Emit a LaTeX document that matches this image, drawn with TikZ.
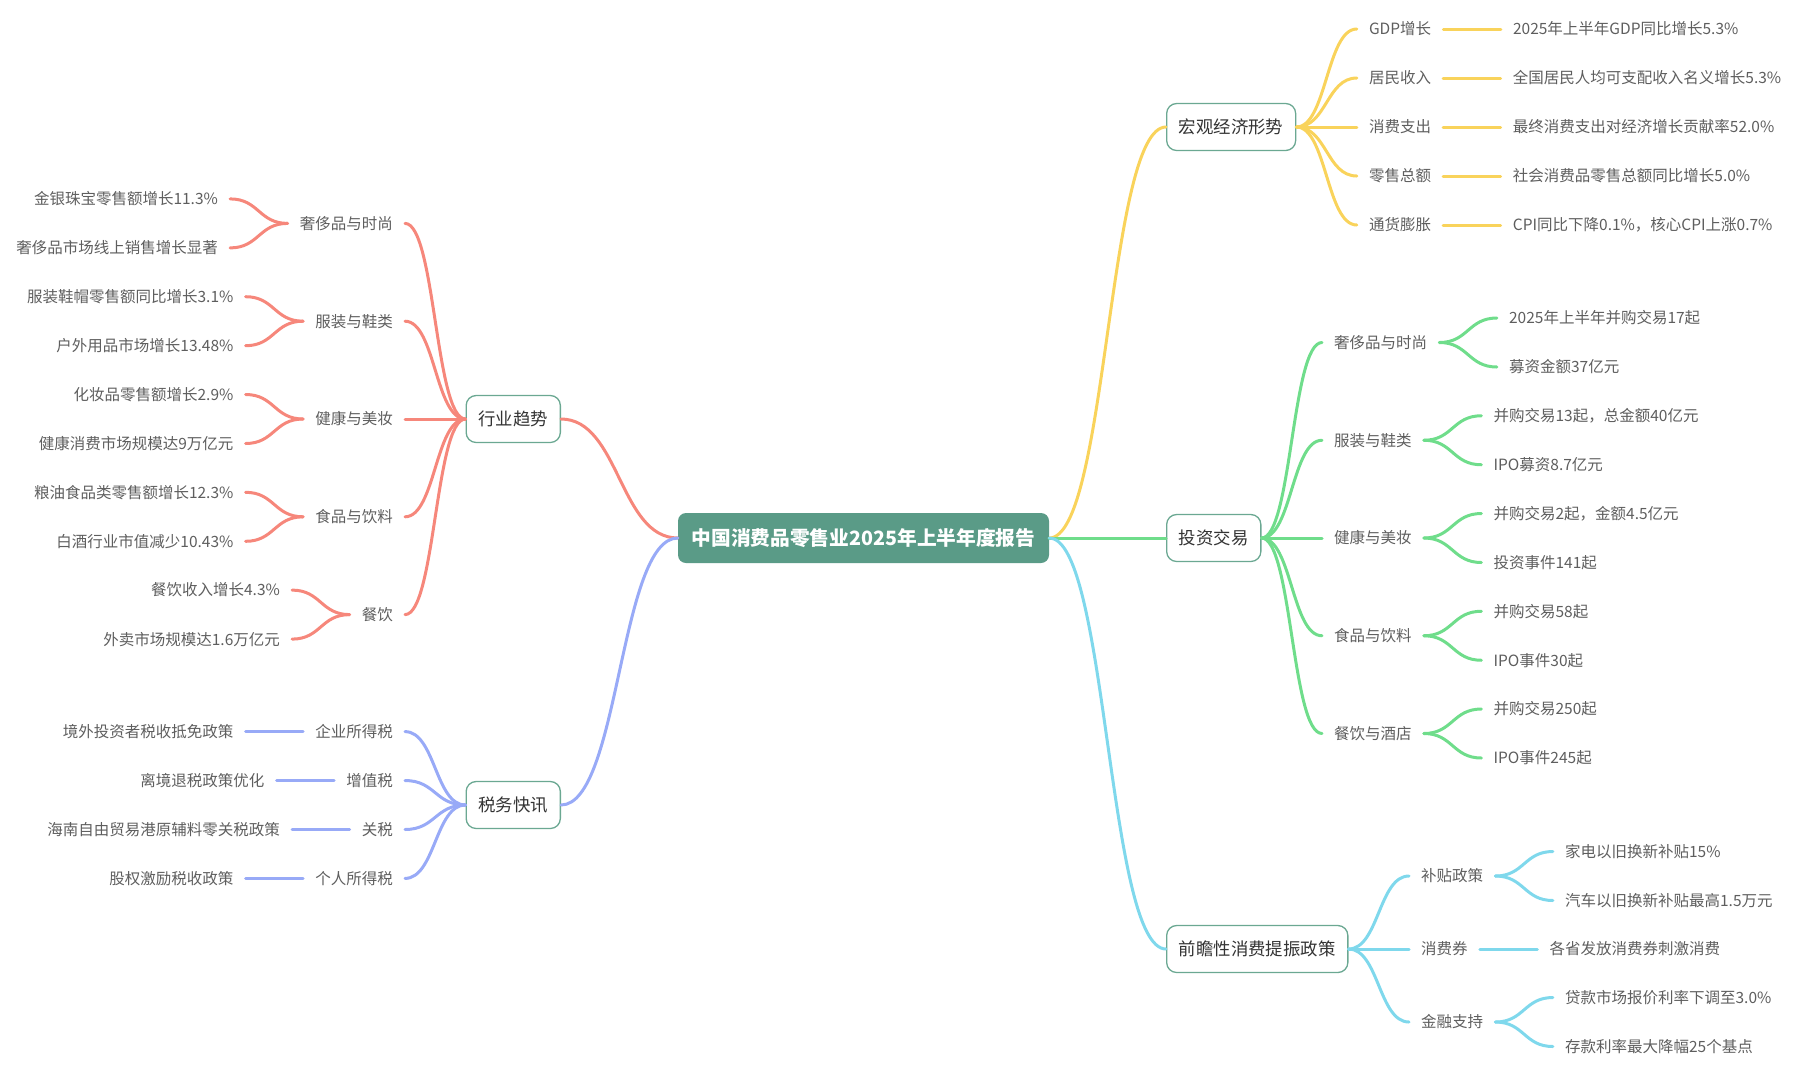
\documentclass[tikz,border=0pt]{standalone}
\usepackage{fontspec}
\setmainfont{Noto Sans CJK SC}
\usetikzlibrary{positioning,calc}

\definecolor{rootfill}{HTML}{5A9B87}
\definecolor{topicline}{HTML}{6BA892}
\definecolor{topictext}{HTML}{333333}
\definecolor{itemtext}{HTML}{5E5E5E}
\definecolor{macroline}{HTML}{F9D35B}
\definecolor{investline}{HTML}{6FDD8B}
\definecolor{policyline}{HTML}{7FD8EC}
\definecolor{trendline}{HTML}{F6877B}
\definecolor{taxline}{HTML}{98AAF7}

\tikzset{
  root/.style={fill=rootfill, text=white, rounded corners=8pt,
    minimum width=371pt, minimum height=50pt,
    font=\fontsize{19.7}{22}\selectfont\bfseries},
  topic/.style={draw=topicline, line width=1.3pt, fill=white, rounded corners=10pt,
    minimum height=47pt, inner xsep=12.3pt, text=topictext,
    font=\fontsize{17.4}{20}\selectfont},
  item/.style={inner xsep=12pt, inner ysep=2pt, text=itemtext,
    font=\fontsize{15.5}{18}\selectfont},
  branch/.style={line width=3pt, line cap=round,
    to path={let \p1=(\tikztostart), \p2=(\tikztotarget) in
      .. controls ({(\x1+\x2)/2},\y1) and ({(\x1+\x2)/2},\y2) .. (\p2)}},
}

\begin{document}
\begin{tikzpicture}[x=1pt, y=-1pt]
  \useasboundingbox (0,0) rectangle (1803,1080);

  % Root
  \node[root] (report) at (863.5,538) {中国消费品零售业2025年上半年度报告};

  % Main topics
  \node[topic, anchor=west] (macro) at (1166,127) {宏观经济形势};
  \node[topic, anchor=west] (invest) at (1166,538) {投资交易};
  \node[topic, anchor=west] (policy) at (1166,949) {前瞻性消费提振政策};
  \node[topic, anchor=east] (trend) at (561,419) {行业趋势};
  \node[topic, anchor=east] (tax) at (561,805) {税务快讯};

  % Macro economy
  \node[item, right=60.5pt of macro, yshift=98pt] (gdp) {GDP增长};
  \node[item, right=60.5pt of macro, yshift=49pt] (income) {居民收入};
  \node[item, right=60.5pt of macro] (spend) {消费支出};
  \node[item, right=60.5pt of macro, yshift=-49pt] (retail) {零售总额};
  \node[item, right=60.5pt of macro, yshift=-98pt] (cpi) {通货膨胀};
  \node[item, right=57.5pt of gdp] (gdpv) {2025年上半年GDP同比增长5.3\%};
  \node[item, right=57.5pt of income] (incomev) {全国居民人均可支配收入名义增长5.3\%};
  \node[item, right=57.5pt of spend] (spendv) {最终消费支出对经济增长贡献率52.0\%};
  \node[item, right=57.5pt of retail] (retailv) {社会消费品零售总额同比增长5.0\%};
  \node[item, right=57.5pt of cpi] (cpiv) {CPI同比下降0.1\%，核心CPI上涨0.7\%};

  % Investment deals
  \node[item, right=60.5pt of invest, yshift=195.5pt] (ilux) {奢侈品与时尚};
  \node[item, right=60.5pt of invest, yshift=97.75pt] (iwear) {服装与鞋类};
  \node[item, right=60.5pt of invest] (ihealth) {健康与美妆};
  \node[item, right=60.5pt of invest, yshift=-97.75pt] (ifood) {食品与饮料};
  \node[item, right=60.5pt of invest, yshift=-195.5pt] (idine) {餐饮与酒店};
  \node[item, right=57.5pt of ilux, yshift=24.5pt] (ilux1) {2025年上半年并购交易17起};
  \node[item, right=57.5pt of ilux, yshift=-24.5pt] (ilux2) {募资金额37亿元};
  \node[item, right=57.5pt of iwear, yshift=24.5pt] (iwear1) {并购交易13起，总金额40亿元};
  \node[item, right=57.5pt of iwear, yshift=-24.5pt] (iwear2) {IPO募资8.7亿元};
  \node[item, right=57.5pt of ihealth, yshift=24.5pt] (ihealth1) {并购交易2起，金额4.5亿元};
  \node[item, right=57.5pt of ihealth, yshift=-24.5pt] (ihealth2) {投资事件141起};
  \node[item, right=57.5pt of ifood, yshift=24.5pt] (ifood1) {并购交易58起};
  \node[item, right=57.5pt of ifood, yshift=-24.5pt] (ifood2) {IPO事件30起};
  \node[item, right=57.5pt of idine, yshift=24.5pt] (idine1) {并购交易250起};
  \node[item, right=57.5pt of idine, yshift=-24.5pt] (idine2) {IPO事件245起};

  % Consumption policy
  \node[item, right=60.5pt of policy, yshift=73pt] (subsidy) {补贴政策};
  \node[item, right=60.5pt of policy] (voucher) {消费券};
  \node[item, right=60.5pt of policy, yshift=-73pt] (finance) {金融支持};
  \node[item, right=57.5pt of subsidy, yshift=24.5pt] (subsidy1) {家电以旧换新补贴15\%};
  \node[item, right=57.5pt of subsidy, yshift=-24.5pt] (subsidy2) {汽车以旧换新补贴最高1.5万元};
  \node[item, right=57.5pt of voucher] (voucher1) {各省发放消费券刺激消费};
  \node[item, right=57.5pt of finance, yshift=24.5pt] (finance1) {贷款市场报价利率下调至3.0\%};
  \node[item, right=57.5pt of finance, yshift=-24.5pt] (finance2) {存款利率最大降幅25个基点};

  % Industry trends
  \node[item, left=60.5pt of trend, yshift=195.6pt] (tlux) {奢侈品与时尚};
  \node[item, left=60.5pt of trend, yshift=97.8pt] (twear) {服装与鞋类};
  \node[item, left=60.5pt of trend] (thealth) {健康与美妆};
  \node[item, left=60.5pt of trend, yshift=-97.8pt] (tfood) {食品与饮料};
  \node[item, left=60.5pt of trend, yshift=-195.6pt] (tdine) {餐饮};
  \node[item, left=57.5pt of tlux, yshift=24.5pt] (tlux1) {金银珠宝零售额增长11.3\%};
  \node[item, left=57.5pt of tlux, yshift=-24.5pt] (tlux2) {奢侈品市场线上销售增长显著};
  \node[item, left=57.5pt of twear, yshift=24.5pt] (twear1) {服装鞋帽零售额同比增长3.1\%};
  \node[item, left=57.5pt of twear, yshift=-24.5pt] (twear2) {户外用品市场增长13.48\%};
  \node[item, left=57.5pt of thealth, yshift=24.5pt] (thealth1) {化妆品零售额增长2.9\%};
  \node[item, left=57.5pt of thealth, yshift=-24.5pt] (thealth2) {健康消费市场规模达9万亿元};
  \node[item, left=57.5pt of tfood, yshift=24.5pt] (tfood1) {粮油食品类零售额增长12.3\%};
  \node[item, left=57.5pt of tfood, yshift=-24.5pt] (tfood2) {白酒行业市值减少10.43\%};
  \node[item, left=57.5pt of tdine, yshift=24.5pt] (tdine1) {餐饮收入增长4.3\%};
  \node[item, left=57.5pt of tdine, yshift=-24.5pt] (tdine2) {外卖市场规模达1.6万亿元};

  % Tax news
  \node[item, left=60.5pt of tax, yshift=73.4pt] (corp) {企业所得税};
  \node[item, left=60.5pt of tax, yshift=24.5pt] (vat) {增值税};
  \node[item, left=60.5pt of tax, yshift=-24.5pt] (tariff) {关税};
  \node[item, left=60.5pt of tax, yshift=-73.4pt] (pit) {个人所得税};
  \node[item, left=57.5pt of corp] (corp1) {境外投资者税收抵免政策};
  \node[item, left=57.5pt of vat] (vat1) {离境退税政策优化};
  \node[item, left=57.5pt of tariff] (tariff1) {海南自由贸易港原辅料零关税政策};
  \node[item, left=57.5pt of pit] (pit1) {股权激励税收政策};

  % Root links
  \draw[branch, macroline] (report.east) to (macro.west);
  \draw[branch, investline] (report.east) to (invest.west);
  \draw[branch, policyline] (report.east) to (policy.west);
  \draw[branch, trendline] (report.west) to (trend.east);
  \draw[branch, taxline] (report.west) to (tax.east);

  % Right-hand links
  \foreach \s in {gdp,income,spend,retail,cpi} {
    \draw[branch, macroline] (macro.east) to (\s.west);
    \draw[branch, macroline] (\s.east) to (\s v.west);
  }
  \foreach \s in {ilux,iwear,ihealth,ifood,idine} {
    \draw[branch, investline] (invest.east) to (\s.west);
    \draw[branch, investline] (\s.east) to (\s 1.west);
    \draw[branch, investline] (\s.east) to (\s 2.west);
  }
  \foreach \s in {subsidy,voucher,finance}
    \draw[branch, policyline] (policy.east) to (\s.west);
  \foreach \s in {subsidy,finance} {
    \draw[branch, policyline] (\s.east) to (\s 1.west);
    \draw[branch, policyline] (\s.east) to (\s 2.west);
  }
  \draw[branch, policyline] (voucher.east) to (voucher1.west);

  % Left-hand links
  \foreach \s in {tlux,twear,thealth,tfood,tdine} {
    \draw[branch, trendline] (trend.west) to (\s.east);
    \draw[branch, trendline] (\s.west) to (\s 1.east);
    \draw[branch, trendline] (\s.west) to (\s 2.east);
  }
  \foreach \s in {corp,vat,tariff,pit} {
    \draw[branch, taxline] (tax.west) to (\s.east);
    \draw[branch, taxline] (\s.west) to (\s 1.east);
  }
\end{tikzpicture}
\end{document}
